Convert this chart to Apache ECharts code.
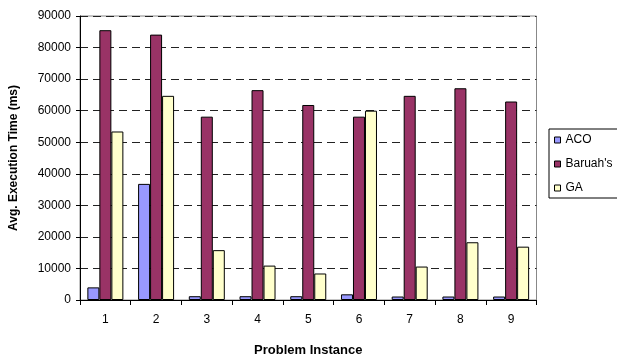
<!DOCTYPE html>
<html><head><meta charset="utf-8">
<script src="https://cdn.jsdelivr.net/npm/echarts@6/dist/echarts.min.js"></script>
<style>html,body{margin:0;padding:0;background:#fff}#c{width:617px;height:362px}</style>
</head><body><div id="c"></div>
<script>
const categories = ['1','2','3','4','5','6','7','8','9'];
const aco = [4000, 36800, 1200, 1200, 1200, 1800, 1100, 1100, 1100];
const baruah = [85500, 84100, 58100, 66500, 61800, 58100, 64700, 67100, 62900];
const ga = [53400, 64700, 15800, 10900, 8400, 60000, 10600, 18300, 16900];
const yTicks = [0, 10000, 20000, 30000, 40000, 50000, 60000, 70000, 80000, 90000];

const font = 'Liberation Sans, Arial, sans-serif';
const chart = echarts.init(document.getElementById('c'), null, {renderer:'canvas'});
const mk = (name, data, color) => ({
  name, type:'bar', data, barWidth:12, barGap:'0%',
  itemStyle:{color, borderColor:'#000', borderWidth:1},
  emphasis:{disabled:true}, animation:false
});
chart.setOption({
  animation:false,
  grid:{left:74.5, top:16, right:80.5, bottom:51, show:true, borderColor:'#888', borderWidth:1, backgroundColor:'transparent'},
  legend:{
    orient:'vertical', left:549, top:129, itemWidth:6, itemHeight:6, itemGap:10,
    padding:[4,12,3,5], borderColor:'#000', borderWidth:1,
    icon:'rect',
    itemStyle:{borderColor:'#000', borderWidth:1},
    textStyle:{fontFamily:font, fontSize:12, color:'#000', lineHeight:14},
    data:['ACO',"Baruah's",'GA']
  },
  xAxis:{
    type:'category', data:categories,
    name:'Problem Instance', nameLocation:'middle', nameGap:44,
    nameTextStyle:{fontFamily:font, fontSize:13, fontWeight:'bold', color:'#000'},
    axisLine:{lineStyle:{color:'#000', width:1}},
    axisTick:{show:true, length:5, alignWithLabel:false, lineStyle:{color:'#000'}},
    axisLabel:{fontFamily:font, fontSize:12, color:'#000', margin:14},
    splitLine:{show:false}
  },
  yAxis:{
    type:'value', min:yTicks[0], max:yTicks[yTicks.length-1], interval:10000,
    name:'Avg. Execution Time (ms)', nameLocation:'middle', nameGap:60,
    nameTextStyle:{fontFamily:font, fontSize:12, fontWeight:'bold', color:'#000'},
    axisLine:{show:true, lineStyle:{color:'#000', width:1}},
    axisTick:{show:true, length:4, lineStyle:{color:'#000'}},
    axisLabel:{fontFamily:font, fontSize:12, color:'#000', margin:9, formatter:v => String(v)},
    splitLine:{show:true, lineStyle:{color:'#222', width:1, type:[8,5]}}
  },
  series:[mk('ACO', aco, '#9999FF'), mk("Baruah's", baruah, '#993366'), mk('GA', ga, '#FFFFCC')]
});
</script></body></html>
